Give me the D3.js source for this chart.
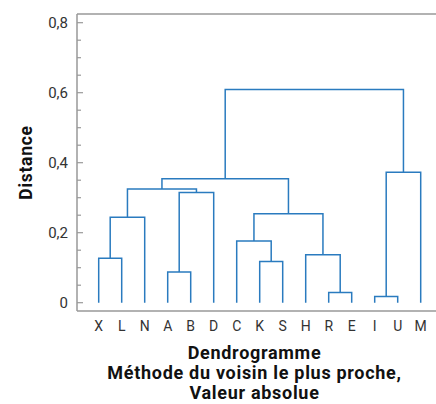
<!DOCTYPE html>
<html>
<head>
<meta charset="utf-8">
<script src="https://cdn.jsdelivr.net/npm/d3@7"></script>
<style>
  html, body { margin: 0; padding: 0; background: #fff; }
  svg { display: block; }
</style>
</head>
<body>
<svg id="chart" width="436" height="404"></svg>
<script>
// ---- Data ----
const leaves = ["X","L","N","A","B","D","C","K","S","H","R","E","I","U","M"];
// linkage: [clusterA, clusterB, merge distance]; new cluster name = A + B
const mergeA = ["X","XL","A","AB","XLN","K","C","R","H","CKS","XLNABD","I","IU","XLNABDCKSHRE"];
const mergeB = ["L","N","B","D","ABD","S","KS","E","RE","HRE","CKSHRE","U","M","IUM"];
const mergeHeight = [0.127,0.244,0.088,0.315,0.325,0.118,0.176,0.029,0.137,0.254,0.354,0.018,0.373,0.609];
const yTicks = [0,0.2,0.4,0.6,0.8];
const yMinorTicks = [0.05,0.1,0.15,0.25,0.3,0.35,0.45,0.5,0.55,0.65,0.7,0.75];
const yTickLabels = ["0","0,2","0,4","0,6","0,8"];
const yLabel = "Distance";
const titleLines = ["Dendrogramme","Méthode du voisin le plus proche,","Valeur absolue"];

// ---- Build hierarchy ----
const nodes = {};
leaves.forEach(n => nodes[n] = {name: n, height: 0});
mergeA.forEach((a, i) => {
  const b = mergeB[i];
  const name = a + b;
  nodes[name] = {name, height: mergeHeight[i], children: [nodes[a], nodes[b]]};
});
const rootName = mergeA[mergeA.length-1] + mergeB[mergeB.length-1];
const root = d3.hierarchy(nodes[rootName]);

// ---- Scales ----
const plotLeft = 77, plotRight = 436, plotTop = 14, plotBottom = 311;
const x = d3.scalePoint().domain(leaves).range([98.7, 420.7]);
const y = d3.scaleLinear().domain([0, 0.8]).range([302.7, 22.7]);

root.eachAfter(d => {
  d.px = d.children ? d3.mean(d.children, c => c.px) : x(d.data.name);
  d.py = y(d.data.height);
});

const svg = d3.select("#chart");
const font = "Roboto, 'DejaVu Sans', sans-serif";
const axisColor = "#999999";
const lineColor = "#2a7bbf";

// frame lines
svg.append("line").attr("x1", plotLeft).attr("x2", plotRight).attr("y1", plotTop).attr("y2", plotTop)
  .attr("stroke", axisColor).attr("stroke-width", 1.5);
svg.append("line").attr("x1", plotLeft).attr("x2", plotRight).attr("y1", plotBottom).attr("y2", plotBottom)
  .attr("stroke", axisColor).attr("stroke-width", 1.5);

// y axis (ticks inward)
const gy = svg.append("g").attr("transform", `translate(${plotLeft},0)`);
gy.append("line").attr("x1", 0).attr("x2", 0).attr("y1", plotTop).attr("y2", plotBottom)
  .attr("stroke", axisColor).attr("stroke-width", 1.5);
gy.selectAll("line.major").data(yTicks).join("line").attr("class","major")
  .attr("x1", 0).attr("x2", 6).attr("y1", d => y(d)).attr("y2", d => y(d))
  .attr("stroke", axisColor).attr("stroke-width", 1.2);
gy.selectAll("line.minor").data(yMinorTicks).join("line").attr("class","minor")
  .attr("x1", 0).attr("x2", 4).attr("y1", d => y(d)).attr("y2", d => y(d))
  .attr("stroke", axisColor).attr("stroke-width", 1.2);
gy.selectAll("text").data(yTicks).join("text")
  .attr("x", -9).attr("y", d => y(d)).attr("dy", "0.36em")
  .attr("text-anchor", "end").attr("font-family", font).attr("font-size", 15)
  .attr("fill", "#333").text((d, i) => yTickLabels[i]);

// y label
svg.append("text").attr("transform", `translate(32,${(plotTop+plotBottom)/2}) rotate(-90)`)
  .attr("text-anchor", "middle").attr("font-family", font).attr("font-weight", "bold")
  .attr("font-size", 17.5).attr("letter-spacing", 0.7).attr("fill", "#111").text(yLabel);

// leaf labels
svg.append("g").selectAll("text").data(leaves).join("text")
  .attr("x", d => x(d)).attr("y", 330.5).attr("text-anchor", "middle")
  .attr("font-family", font).attr("font-size", 14).attr("fill", "#333").text(d => d);

// dendrogram links
const links = svg.append("g").attr("fill", "none").attr("stroke", lineColor).attr("stroke-width", 1.5);
root.descendants().filter(d => d.children).forEach(d => {
  const [a, b] = d.children;
  links.append("path").attr("d", `M${a.px},${a.py}V${d.py}H${b.px}V${b.py}`);
});

// title
const title = svg.append("text").attr("text-anchor", "middle").attr("font-family", font)
  .attr("font-weight", "bold").attr("font-size", 18).attr("letter-spacing", 0.7).attr("fill", "#111");
titleLines.forEach((t, i) => {
  title.append("tspan").attr("x", 254.5).attr("y", 358.5 + i * 20).text(t);
});
</script>
</body>
</html>
